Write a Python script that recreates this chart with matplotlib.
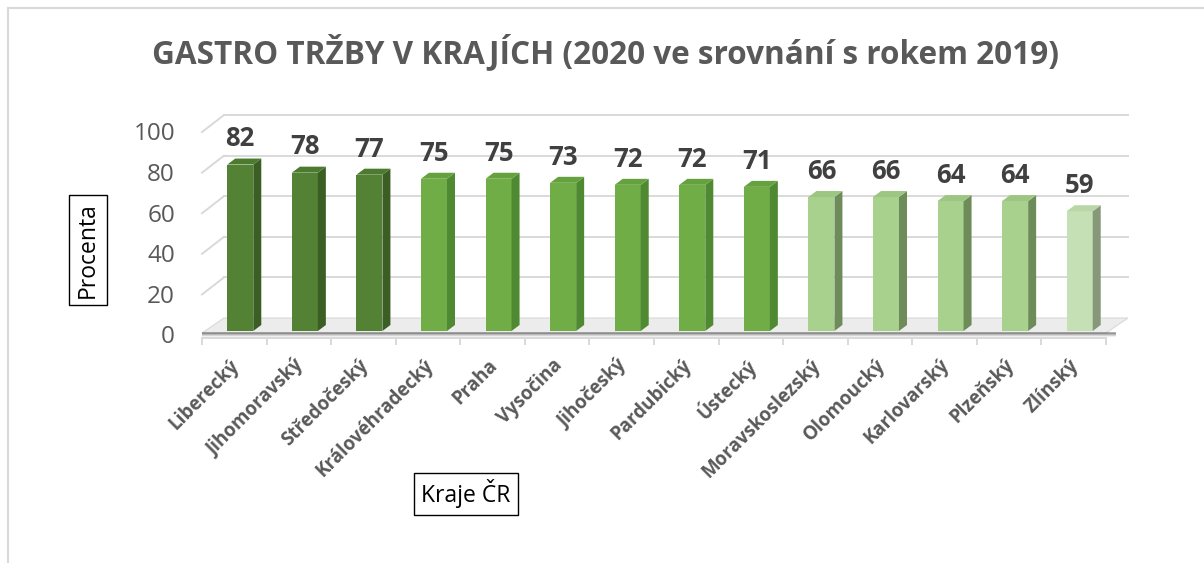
import numpy as np
import matplotlib.pyplot as plt
from matplotlib.patches import Polygon
from matplotlib.lines import Line2D
from matplotlib.transforms import offset_copy

# === Data ===
kraje = ["Liberecký", "Jihomoravský", "Středočeský", "Královéhradecký", "Praha",
         "Vysočina", "Jihočeský", "Pardubický", "Ústecký", "Moravskoslezský",
         "Olomoucký", "Karlovarský", "Plzeňský", "Zlínský"]
procenta = [82, 78, 77, 75, 75, 73, 72, 72, 71, 66, 66, 64, 64, 59]
skupina = [0, 0, 0, 1, 1, 1, 1, 1, 1, 2, 2, 2, 2, 3]
y_ticks = [0, 20, 40, 60, 80, 100]

# barvy (predni stena, bocni stena, horni stena)
barvy = [("#548235", "#3b5e24", "#4c7a2f"),
         ("#70ad47", "#4f8a33", "#66a13f"),
         ("#a9d18e", "#6e8c5a", "#9dc683"),
         ("#c5e0b4", "#86977a", "#b9d6a6")]

plt.rcParams['font.family'] = ['Open Sans', 'DejaVu Sans']
W, H = 1204, 563
fig = plt.figure(figsize=(W/100, H/100), dpi=100)

# ramecek
fig.add_artist(Line2D([8/W, 8/W], [0, 1 - 8/H], color="#d9d9d9", lw=1.5))
fig.add_artist(Line2D([8/W, 1], [1 - 8/H, 1 - 8/H], color="#d9d9d9", lw=1.5))

# === Osy: y=0 na pixelu 331, 2.03 px na jednotku ===
PY = 2.03
y_min = -3.5
left, right = 202, 1106
PX = (right - left) / len(kraje)
bottom_px = 331 - y_min * PY
ax = fig.add_axes([left/W, (H - bottom_px)/H, (right-left)/W, (100 - y_min)*PY/H])
ax.set_xlim(-0.5, len(kraje) - 0.5)
ax.set_ylim(y_min, 100)

def px(dx, dy):
    return dx / PX, dy / PY

# zadni stena + leva stena (mrizka)
wdx, wdy = px(22, 13)
x0, x1 = -0.5, len(kraje) - 0.5
for v in y_ticks[1:]:
    ax.plot([x0 + wdx, x1 + wdx], [v + wdy, v + wdy], color="#d9d9d9", lw=1.4, zorder=1, clip_on=False)
    ax.plot([x0, x0 + wdx], [v - 2, v + wdy], color="#d9d9d9", lw=1.4, zorder=1, clip_on=False)

# podlaha
f_front = -1.0
floor = Polygon([(x0, f_front), (x1, f_front), (x1 + wdx, wdy), (x0 + wdx, wdy)],
                closed=True, facecolor="#ececec", edgecolor="#d9d9d9", lw=0.8, zorder=2, clip_on=False)
ax.add_patch(floor)
for k, a in enumerate([0.55, 0.35, 0.2, 0.1]):
    ax.plot([x0, x1 + 0.15], [f_front - 0.45*k, f_front - 0.45*k], color="#555555",
            alpha=a, lw=1.2, zorder=2, clip_on=False, solid_capstyle="butt")

# === Sloupce (3D) ===
bw = 26 / PX
shift = 6 / PX
bdx, bdy = px(8, 6)
for i, (v, g) in enumerate(zip(procenta, skupina)):
    front, side, top = barvy[g]
    xl = i + shift - bw/2
    xr = xl + bw
    ax.bar(xl, v, width=bw, align="edge", color=front, zorder=4)
    ax.add_patch(Polygon([(xr, 0), (xr + bdx, bdy), (xr + bdx, v + bdy), (xr, v)],
                         closed=True, facecolor=side, edgecolor="none", zorder=4))
    ax.add_patch(Polygon([(xl, v), (xl + bdx, v + bdy), (xr + bdx, v + bdy), (xr, v)],
                         closed=True, facecolor=top, edgecolor="none", zorder=4, clip_on=False))
    ax.text(i + shift, v + bdy + 6, str(v), ha="center", va="baseline", fontsize=18.5,
            fontweight="bold", color="#404040", zorder=5)
    ax.text(i + shift - 0.06, -15.5, kraje[i], rotation=45, rotation_mode="anchor",
            ha="right", va="center", fontsize=13.5, fontweight="bold", color="#595959")

# osa x
for s in ["left", "right", "top"]:
    ax.spines[s].set_visible(False)
ax.spines["bottom"].set_color("#d9d9d9")
ax.spines["bottom"].set_linewidth(1.4)
ax.set_xticks(np.arange(-0.5, len(kraje) + 0.5, 1))
ax.tick_params(axis="x", length=5, width=1.4, color="#d9d9d9", labelbottom=False)
ax.set_yticks([])
ytr = offset_copy(ax.transData, fig=fig, x=-27, y=0, units="dots")
for v in y_ticks:
    ax.text(-0.5, v - 3.2, str(v), transform=ytr, ha="right", va="center",
            fontsize=17.5, color="#595959")
ax.patch.set_visible(False)

# popisky os
fig.text(88/W, 1 - 250/H, "Procenta", rotation=90, ha="center", va="center", fontsize=16.5,
         color="black", bbox=dict(boxstyle="square,pad=0.3", fc="white", ec="black", lw=1))
fig.text(466/W, 1 - 494/H, "Kraje ČR", ha="center", va="center", fontsize=16.5,
         color="black", bbox=dict(boxstyle="square,pad=0.3", fc="white", ec="black", lw=1))

fig.text(606/W, 1 - 53/H, "GASTRO TRŽBY V KRAJÍCH (2020 ve srovnání s rokem 2019)",
         ha="center", va="center", fontsize=22.7, fontweight="bold", color="#595959")

fig.savefig("out.png", dpi=100)
